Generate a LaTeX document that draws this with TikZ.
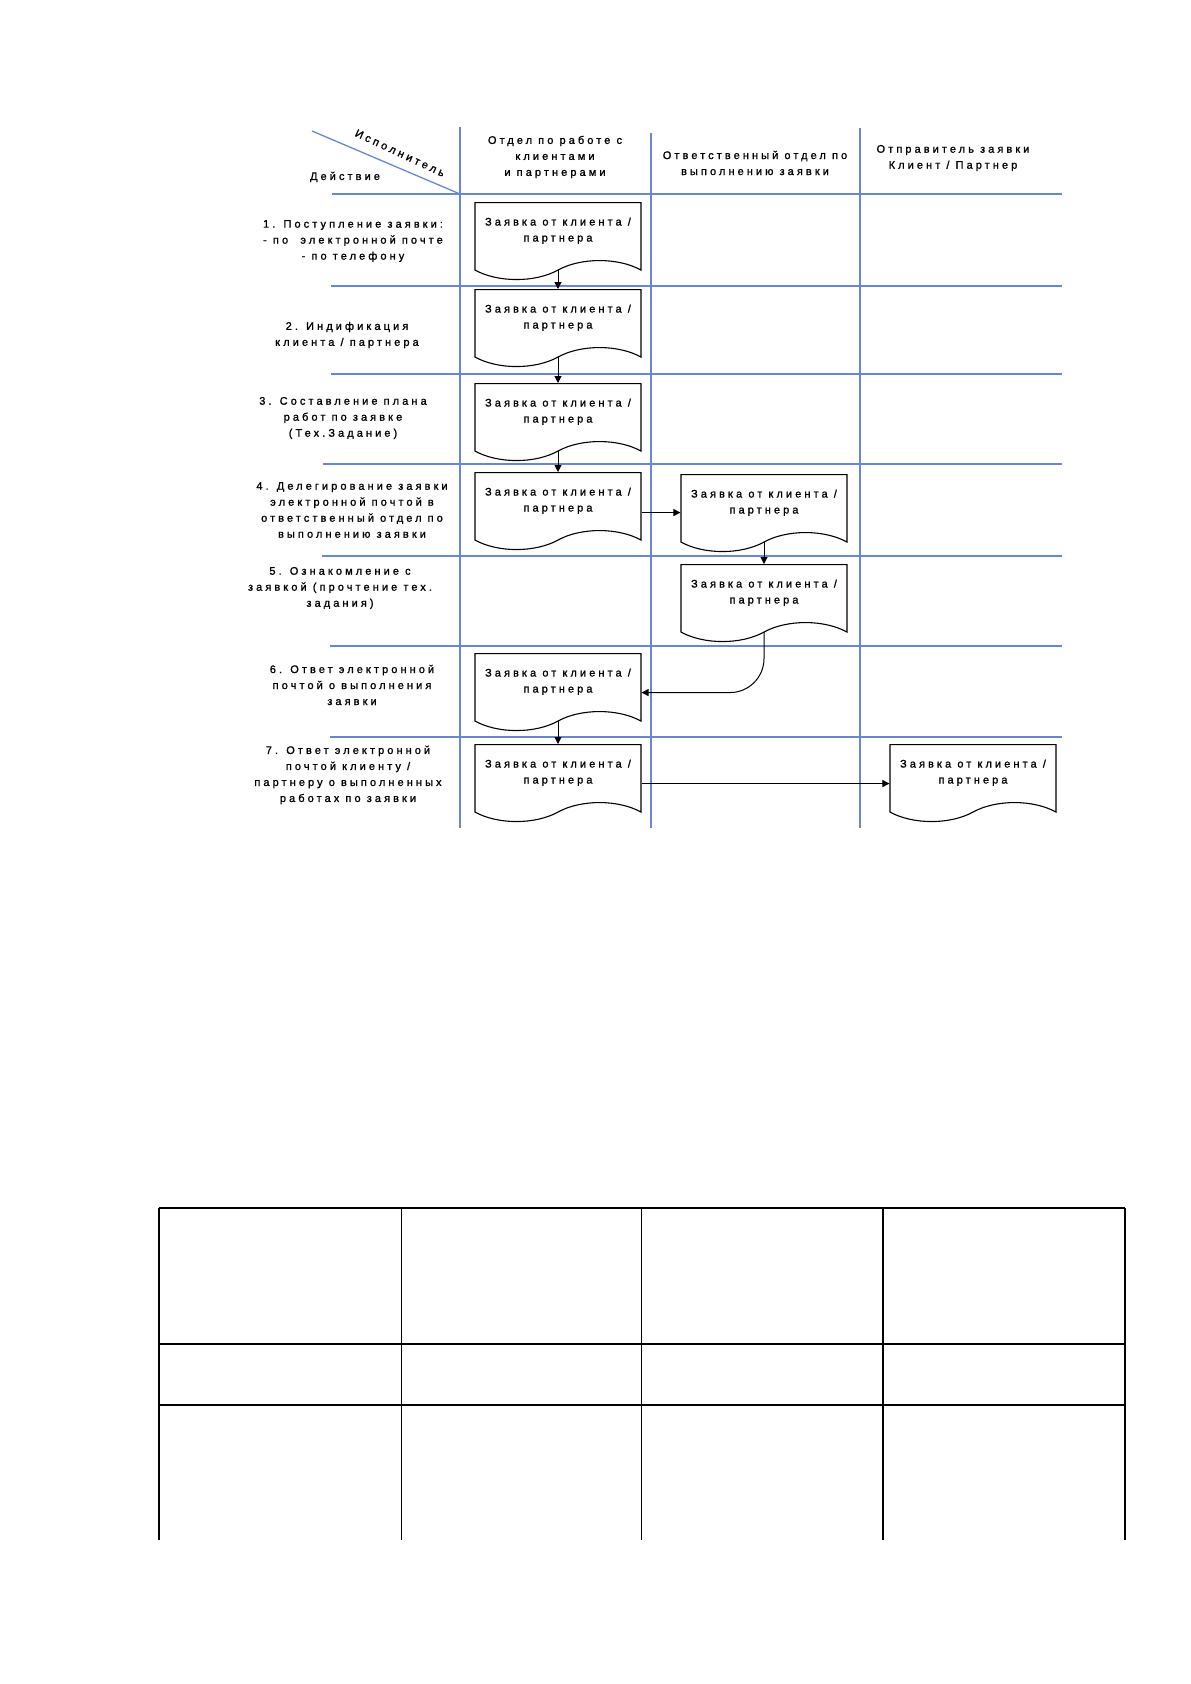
\documentclass[tikz,border=0pt]{standalone}
\usepackage{fontspec}
\setmainfont{Liberation Sans}
\newfontfamily\lanefont[LetterSpace=28,FakeBold=1.2]{Liberation Sans}
\usetikzlibrary{arrows.meta,shapes.symbols,positioning}
\definecolor{lanecol}{RGB}{105,135,208}

\begin{document}
\begin{tikzpicture}[x=1pt,y=-1pt]
\tikzstyle{every node}+=[inner sep=0pt]
\tikzstyle{lane}=[draw=lanecol,line width=1.3pt]
\tikzstyle{cell}=[draw=black,line width=1.5pt]
\tikzstyle{thincell}=[draw=black,line width=1pt]
\tikzstyle{doc}=[draw,line width=1.1pt,shape=tape,tape bend top=none,tape bend bottom=in and out,tape bend height=19pt,minimum width=166pt,minimum height=77pt,text depth=4pt,align=center,anchor=north,font=\lanefont\fontsize{11}{16}\selectfont]
\tikzstyle{lbl}=[align=center,font=\lanefont\fontsize{11}{16}\selectfont]
\tikzstyle{flow}=[draw,line width=1pt,-{Triangle[length=7pt,width=7pt]}]
\useasboundingbox (0,0) rectangle (1191,1684);
\draw[lane] (312,131) -- (460,194);
\draw[lane] (460,127) -- (460,828);
\draw[lane] (651,133) -- (651,828);
\draw[lane] (860,128) -- (860,828);
\draw[lane] (332,194) -- (1062,194);
\draw[lane] (331,286) -- (1062,286);
\draw[lane] (331,374) -- (1062,374);
\draw[lane] (323,464) -- (1062,464);
\draw[lane] (322,556) -- (1062,556);
\draw[lane] (330,646) -- (1062,646);
\draw[lane] (330,737) -- (1062,737);
\node[lbl,rotate=-25] (hx) at (400,153) {Исполнитель};
\node[lbl] (h0) at (345,177) {Действие};
\node[lbl] (h1) at (555,157) {Отдел по работе с\\клиентами\\и партнерами};
\node[lbl] (h2) at (755,163) {Ответственный отдел по\\выполнению заявки};
\node[lbl] (h3) at (953,158) {Отправитель заявки\\Клиент / Партнер};
\node[lbl] (r1) at (353,241) {1. Поступление заявки:\\- по \ электронной почте\\- по телефону};
\node[lbl] (r2) at (347,335) {2. Индификация\\клиента / партнера};
\node[lbl] (r3) at (343,418) {3. Составление плана\\работ по заявке\\(Тех.Задание)};
\node[lbl] (r4) at (352,510) {4. Делегирование заявки\\электронной почтой в\\ответственный отдел по\\выполнению заявки};
\node[lbl] (r5) at (340,588) {5. Ознакомление с\\заявкой (прочтение тех.\\задания)};
\node[lbl] (r6) at (352,685) {6. Ответ электронной\\почтой о выполнения\\заявки};
\node[lbl] (r7) at (348,775) {7. Ответ электронной\\почтой клиенту /\\партнеру о выполненных\\работах по заявки};
\node[doc] (b1) at (558,202) {Заявка от клиента /\\партнера};
\node[doc] (b2) at (558,289) {Заявка от клиента /\\партнера};
\node[doc] (b3) at (558,383) {Заявка от клиента /\\партнера};
\node[doc] (b4) at (558,472) {Заявка от клиента /\\партнера};
\node[doc] (b4b) at (764,474) {Заявка от клиента /\\партнера};
\node[doc] (b5) at (764,564) {Заявка от клиента /\\партнера};
\node[doc] (b6) at (558,653) {Заявка от клиента /\\партнера};
\node[doc] (b7) at (558,744) {Заявка от клиента /\\партнера};
\node[doc] (b7b) at (973,744) {Заявка от клиента /\\партнера};
\draw[flow] ([yshift=-9pt]b1.south) -- (b2.north);
\draw[flow] ([yshift=-9pt]b2.south) -- (b3.north);
\draw[flow] ([yshift=-9pt]b3.south) -- (b4.north);
\draw[flow] ([yshift=-11pt]b4.east) -- ([yshift=-11pt]b4.east -| b4b.west);
\draw[flow] ([yshift=-9pt]b4b.south) -- (b5.north);
\draw[flow,rounded corners=34pt] ([yshift=-9pt]b5.south) |- ([yshift=-10pt]b6.east);
\draw[flow] ([yshift=-9pt]b6.south) -- (b7.north);
\draw[flow] ([yshift=-10pt]b7.east) -- ([yshift=-10pt]b7.east -| b7b.west);
\draw[cell] (159,1208) -- (1125,1208);
\draw[cell] (159,1344) -- (1125,1344);
\draw[cell] (159,1405) -- (1125,1405);
\draw[cell] (159,1208) -- (159,1540);
\draw[thincell] (401,1208) -- (401,1540);
\draw[thincell] (641,1208) -- (641,1540);
\draw[cell] (883,1208) -- (883,1540);
\draw[cell] (1125,1208) -- (1125,1540);
\end{tikzpicture}
\end{document}
